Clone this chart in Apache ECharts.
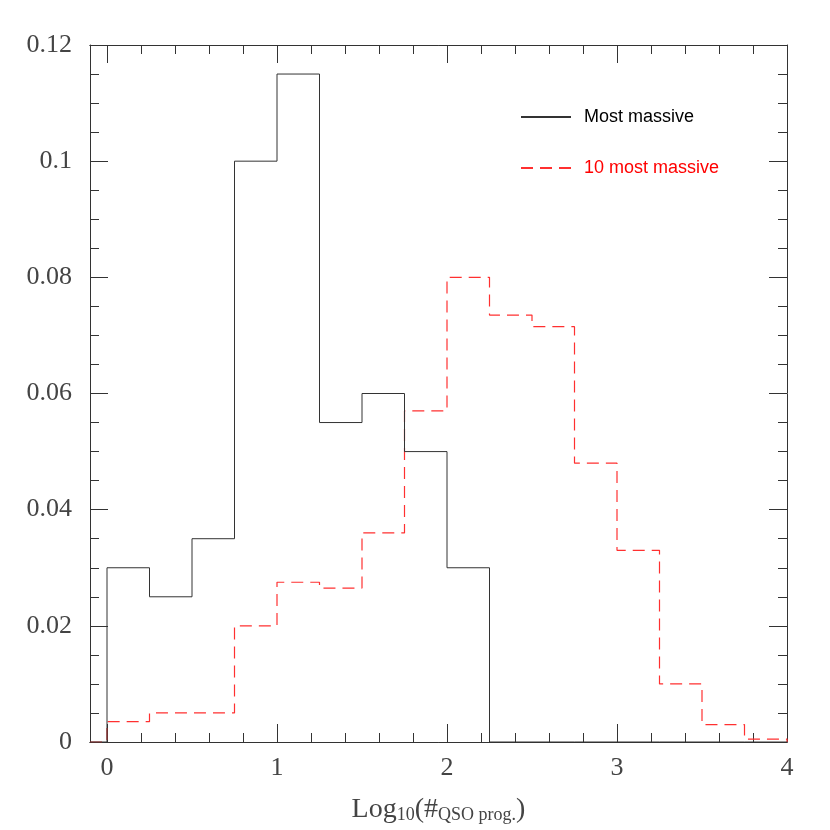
<!DOCTYPE html>
<html>
<head>
<meta charset="utf-8">
<script src="https://cdn.jsdelivr.net/npm/echarts@6/dist/echarts.min.js"></script>
<style>
  html, body { margin: 0; padding: 0; background: #fff; }
  #chart { width: 830px; height: 830px; }
</style>
</head>
<body>
<div id="chart"></div>
<script>
// bin edges of log10(#QSO prog.), width 0.25
const binEdges = [0, 0.25, 0.5, 0.75, 1, 1.25, 1.5, 1.75, 2, 2.25, 2.5, 2.75, 3, 3.25, 3.5, 3.75, 4]
// fraction per bin
const mostMassive = [0.03, 0.025, 0.035, 0.1, 0.115, 0.055, 0.06, 0.05, 0.03, 0, 0, 0, 0, 0, 0, 0]
const tenMostMassive = [0.0035, 0.005, 0.005, 0.02, 0.0275, 0.0265, 0.036, 0.057, 0.08, 0.0735, 0.0715, 0.048, 0.033, 0.01, 0.003, 0.0005]
const xMajorTicks = [0, 1, 2, 3, 4]
const xMinorTicks = [0, 0.2, 0.4, 0.6, 0.8, 1, 1.2, 1.4, 1.6, 1.8, 2, 2.2, 2.4, 2.6, 2.8, 3, 3.2, 3.4, 3.6, 3.8, 4]

const X_MIN = -0.1
const X_MAX = 4

// turn bins into step points (horizontal first, then vertical)
function stepPoints(vals) {
  const pts = [[X_MIN, 0]]
  vals.forEach((v, i) => pts.push([binEdges[i], v]))
  pts.push([binEdges[binEdges.length - 1], 0])
  return pts
}

const axisColor = '#333'
const labelFont = {
  color: '#444',
  fontFamily: 'Liberation Serif',
  fontSize: 26
}

function xAxisDef(position, ticks, len, showLabel) {
  return {
    type: 'value',
    position: position,
    min: X_MIN,
    max: X_MAX,
    axisLine: { show: true, onZero: false, lineStyle: { color: axisColor, width: 1 } },
    axisTick: {
      show: true,
      inside: true,
      length: len,
      customValues: ticks,
      lineStyle: { color: axisColor, width: 1 }
    },
    axisLabel: Object.assign({
      show: showLabel,
      margin: 13,
      customValues: xMajorTicks
    }, labelFont),
    splitLine: { show: false }
  }
}

function yAxisDef(position, showLabel) {
  return {
    type: 'value',
    position: position,
    min: 0,
    max: 0.12,
    interval: 0.02,
    axisLine: { show: true, onZero: false, lineStyle: { color: axisColor, width: 1 } },
    axisTick: { show: true, inside: true, length: 18, lineStyle: { color: axisColor } },
    minorTick: { show: true, splitNumber: 4, length: 9, lineStyle: { color: axisColor } },
    axisLabel: Object.assign({
      show: showLabel,
      margin: 18,
      formatter: v => (v === 0 ? '0' : String(+v.toFixed(2)))
    }, labelFont),
    splitLine: { show: false }
  }
}

const xBottom = xAxisDef('bottom', xMajorTicks, 18, true)
xBottom.name = '{a|Log}{s|10}{a|(#}{s|QSO prog.}{a|)}'
xBottom.nameLocation = 'middle'
xBottom.nameGap = 50
xBottom.nameTextStyle = {
  rich: {
    a: { fontFamily: 'Liberation Serif', fontSize: 28, color: '#444', verticalAlign: 'bottom', lineHeight: 32 },
    s: { fontFamily: 'Liberation Serif', fontSize: 18, color: '#444', verticalAlign: 'bottom', lineHeight: 14 }
  }
}

const chart = echarts.init(document.getElementById('chart'))
chart.setOption({
  animation: false,
  backgroundColor: '#fff',
  grid: { left: 90, right: 43, top: 45, bottom: 88, outerBoundsMode: 'none', containLabel: false },
  legend: {
    left: 515,
    top: 103,
    orient: 'vertical',
    itemWidth: 50,
    itemHeight: 14,
    itemGap: 33,
    itemStyle: { color: 'transparent', borderColor: 'transparent', borderWidth: 0 },
    textStyle: { fontFamily: 'Liberation Sans', fontSize: 18, padding: [0, 0, 0, 8] },
    data: [
      { name: 'Most massive', textStyle: { color: '#000' } },
      { name: '10 most massive', textStyle: { color: '#ff0000' } }
    ]
  },
  xAxis: [
    xBottom,
    xAxisDef('bottom', xMinorTicks, 9, false),
    xAxisDef('top', xMajorTicks, 18, false),
    xAxisDef('top', xMinorTicks, 9, false)
  ],
  yAxis: [yAxisDef('left', true), yAxisDef('right', false)],
  series: [
    {
      name: 'Most massive',
      type: 'line',
      step: 'end',
      symbol: 'none',
      data: stepPoints(mostMassive),
      lineStyle: { color: '#333', width: 1 },
      itemStyle: { color: '#333' },
      z: 3
    },
    {
      name: '10 most massive',
      type: 'line',
      step: 'end',
      symbol: 'none',
      data: stepPoints(tenMostMassive),
      lineStyle: { color: '#ff3030', width: 1.2, type: [12, 7] },
      itemStyle: { color: '#ff3030' },
      z: 2
    }
  ]
})
</script>
</body>
</html>
